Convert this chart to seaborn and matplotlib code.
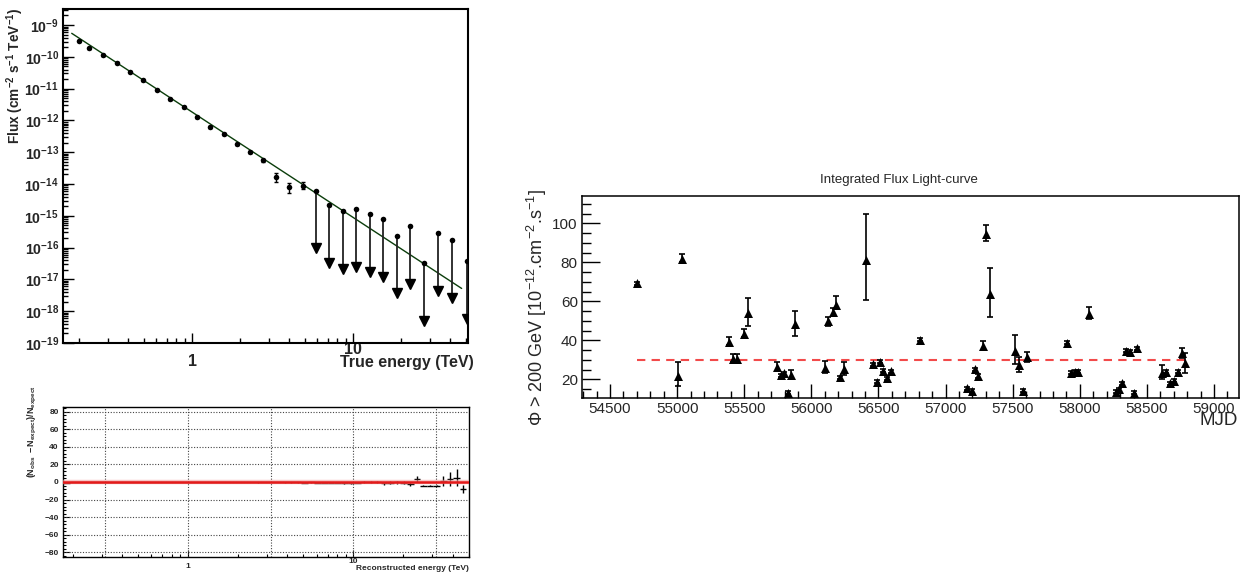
import numpy as np
import matplotlib
matplotlib.use("Agg")
import matplotlib.pyplot as plt
import matplotlib.transforms as mtransforms
from matplotlib.ticker import (LogLocator, FixedLocator, FixedFormatter,
                               NullFormatter, MultipleLocator, FuncFormatter)
import seaborn as sns

# ---------------- differential spectrum (true energy, TeV) ----------------
spec_energy = [0.199, 0.230, 0.281, 0.340, 0.412, 0.499, 0.607, 0.733, 0.888,
               1.074, 1.30, 1.57, 1.90, 2.29, 2.76, 3.32, 4.00, 4.89]
spec_flux = [3.2e-10, 1.86e-10, 1.12e-10, 6.5e-11, 3.4e-11, 1.86e-11, 9.1e-12,
             4.6e-12, 2.6e-12, 1.28e-12, 6.2e-13, 3.7e-13, 1.78e-13, 1.04e-13,
             5.6e-14, 1.7e-14, 7.9e-15, 8.9e-15]
spec_err_low = [0.8e-11, 0.5e-11, 0.3e-11, 0.2e-11, 0.1e-11, 0.6e-12, 0.3e-12,
                0.2e-12, 0.1e-12, 0.6e-13, 0.3e-13, 0.2e-13, 0.1e-13, 0.7e-14,
                0.5e-14, 0.53e-14, 2.8e-15, 2.0e-15]
spec_err_high = [0.8e-11, 0.5e-11, 0.3e-11, 0.2e-11, 0.1e-11, 0.6e-12, 0.3e-12,
                 0.2e-12, 0.1e-12, 0.6e-13, 0.3e-13, 0.2e-13, 0.1e-13, 0.7e-14,
                 0.5e-14, 0.6e-14, 3.1e-15, 2.6e-15]

# upper limits
ul_energy = [5.89, 7.10, 8.67, 10.4, 12.8, 15.4, 18.8, 22.6, 27.6, 33.7, 41.2, 51.1]
ul_flux = [6.2e-15, 2.2e-15, 1.45e-15, 1.63e-15, 1.11e-15, 7.8e-16, 2.4e-16,
           4.9e-16, 3.2e-17, 2.9e-16, 1.73e-16, 3.8e-17]

# power-law fit, end points
fit_energy = [0.179, 47.3]
fit_flux = [5.5e-10, 5.2e-18]

# ---------------- residuals (reconstructed energy, TeV) ----------------
res_energy = [0.1845, 0.2023, 0.2218, 0.2432, 0.2667, 0.2924, 0.3206, 0.3516,
              0.3855, 0.4227, 0.4634, 0.5082, 0.5572, 0.6109, 0.6699, 0.7345,
              0.8054, 0.8831, 0.9683, 1.062, 1.164, 1.276, 1.400, 1.535, 1.683,
              1.845, 2.023, 2.218, 2.432, 2.667, 2.924, 3.206, 3.516, 3.855,
              4.227, 4.634, 5.082, 5.572, 6.109, 6.699, 7.345, 8.054, 8.831,
              9.683, 10.62, 11.64, 12.76, 14.00, 15.35, 16.83, 18.45, 20.23,
              22.18, 24.32, 26.67, 29.24, 32.06, 35.16, 38.55, 42.27, 46.34]
res_value = [-0.6, -0.3, -0.2, 0.1, -0.1, 0.0, 0.1, -0.1, 0.0, 0.1,
             0.0, -0.1, 0.0, 0.1, 0.0, -0.1, 0.0, 0.1, 0.0, -0.1,
             0.1, 0.0, -0.1, 0.0, 0.1, 0.0, -0.2, 0.1, 0.0, -0.3,
             -0.2, -0.1, 0.1, -0.5, -0.4, -0.2, -0.6, -0.3, -0.7, -0.9,
             -0.8, -0.6, -0.9, -1.0, -0.7, -0.2, 0.3, -0.4, -1.5, -0.8,
             -0.2, -0.6, -2.7, 3.4, -4.2, -4.2, -4.2, 1.1, 3.4, 4.9, -8.0]
res_err = [0.2, 0.1, 0.1, 0.1, 0.1, 0.1, 0.1, 0.1, 0.1, 0.1,
           0.1, 0.1, 0.1, 0.1, 0.1, 0.1, 0.1, 0.1, 0.1, 0.1,
           0.1, 0.1, 0.1, 0.2, 0.2, 0.2, 0.2, 0.2, 0.3, 0.3,
           0.3, 0.3, 0.4, 0.4, 0.4, 0.5, 0.5, 0.6, 0.6, 0.7,
           0.7, 0.8, 0.9, 1.0, 1.0, 1.1, 1.2, 1.3, 1.5, 1.6,
           1.8, 2.0, 2.2, 3.8, 0.3, 0.3, 0.3, 5.5, 7.5, 9.7, 4.2]
res_bin_width_dex = 0.04
res_grid_x = [0.316, 1.0, 3.16, 10.0, 31.6]
res_grid_y = [-80, -60, -40, -20, 0, 20, 40, 60, 80]

# ---------------- integrated flux light curve ----------------
lc_mjd = [54704, 55004, 55034, 55389, 55419, 55444, 55499, 55528, 55742, 55774,
          55799, 55829, 55849, 55881, 56105, 56127, 56160, 56180, 56210, 56240,
          56406, 56456, 56488, 56512, 56537, 56567, 56594, 56810, 57163, 57197,
          57222, 57245, 57277, 57304, 57329, 57518, 57550, 57580, 57605, 57908,
          57934, 57966, 57990, 58072, 58269, 58293, 58318, 58345, 58375, 58400,
          58429, 58616, 58643, 58673, 58698, 58731, 58758, 58780]
lc_flux = [69.2, 21.7, 81.7, 39.1, 30.6, 30.3, 43.2, 54.2, 26.5, 22.0,
           23.1, 13.1, 22.0, 48.5, 25.6, 49.7, 54.4, 58.3, 21.0, 25.1,
           81.2, 27.8, 18.8, 29.1, 24.4, 20.5, 24.1, 40.2, 15.4, 14.0,
           25.1, 21.7, 37.1, 94.5, 63.7, 34.7, 27.3, 14.2, 31.3, 38.8,
           23.4, 23.8, 23.8, 53.5, 13.6, 14.9, 18.0, 34.7, 34.2, 13.1,
           35.9, 23.4, 23.9, 18.0, 19.3, 23.8, 33.3, 28.2]
lc_err_low = [0.8, 5.1, 1.7, 1.5, 1.5, 1.5, 1.7, 6.7, 2.1, 0.8,
              0.8, 0.8, 1.7, 6.1, 2.5, 2.2, 1.8, 1.9, 0.8, 2.9,
              20.5, 0.8, 0.8, 0.8, 0.8, 0.8, 0.8, 0.8, 0.8, 0.8,
              0.8, 0.8, 2.1, 3.4, 11.9, 6.9, 3.7, 0.8, 2.3, 0.8,
              0.8, 0.8, 0.8, 2.7, 0.8, 0.8, 0.8, 0.8, 0.8, 0.8,
              0.8, 3.2, 0.8, 0.8, 0.8, 0.8, 2.5, 5.1]
lc_err_high = [0.8, 7.3, 2.6, 2.8, 2.5, 2.5, 2.4, 7.7, 2.2, 0.8,
               0.8, 0.8, 2.8, 6.7, 3.8, 2.4, 2.0, 4.4, 0.8, 3.9,
               23.6, 0.8, 0.8, 0.8, 0.8, 0.8, 0.8, 0.8, 0.8, 0.8,
               0.8, 0.8, 2.7, 4.8, 13.2, 8.2, 4.0, 0.8, 2.9, 0.8,
               0.8, 0.8, 0.8, 3.4, 0.8, 0.8, 0.8, 0.8, 0.8, 0.8,
               0.8, 3.9, 0.8, 0.8, 0.8, 0.8, 2.6, 5.4]
lc_mean = 30.0

# ---------------- style ----------------
sns.set_style("ticks")
plt.rcParams["font.family"] = ["Liberation Sans", "DejaVu Sans"]
plt.rcParams["mathtext.fontset"] = "custom"
plt.rcParams["mathtext.rm"] = "Liberation Sans"
plt.rcParams["mathtext.bf"] = "Liberation Sans:bold"
plt.rcParams["mathtext.it"] = "Liberation Sans:italic"
plt.rcParams["mathtext.default"] = "regular"

W, H = 1244, 574
fig = plt.figure(figsize=(W / 100, H / 100), dpi=100)
fig.patch.set_facecolor("white")


def px_axes(left, top, right, bottom):
    return fig.add_axes([left / W, 1 - bottom / H, (right - left) / W, (bottom - top) / H])


def raise_label(ax, value, dy_pt):
    ticks = ax.xaxis.get_major_ticks()
    locs = ax.xaxis.get_majorticklocs()
    for tick, loc in zip(ticks, locs):
        if np.isclose(loc, value):
            off = mtransforms.ScaledTranslation(0, dy_pt / 72, fig.dpi_scale_trans)
            tick.label1.set_transform(tick.label1.get_transform() + off)


# ======== spectrum panel ========
ax1 = px_axes(63, 9, 468, 343)
ax1.set_xscale("log")
ax1.set_yscale("log")
ax1.set_xlim(0.158, 51.8)
ax1.set_ylim(1e-19, 3.2e-9)

sns.lineplot(x=fit_energy, y=fit_flux, ax=ax1, color="#0b3d0b", lw=1.0,
             sort=False, legend=False, zorder=2)

ax1.errorbar(spec_energy, spec_flux, yerr=[spec_err_low, spec_err_high],
             fmt="none", ecolor="black", elinewidth=1.0, capsize=1.5, zorder=3)
sns.scatterplot(x=spec_energy, y=spec_flux, ax=ax1, color="black", s=16,
                marker="o", edgecolor="black", linewidth=0, legend=False, zorder=4)

# upper-limit arrows
ul_arrow_dex = 1.95
ul_head_dex = 0.13
ul_tip = np.array(ul_flux) * 10 ** (-ul_arrow_dex)
ax1.vlines(ul_energy, ul_tip * 10 ** ul_head_dex, ul_flux, colors="#222222",
           lw=1.3, zorder=3)
ax1.plot(ul_energy, ul_tip * 10 ** ul_head_dex, ls="none", marker="v", ms=6.5,
         color="black", zorder=4)
sns.scatterplot(x=ul_energy, y=ul_flux, ax=ax1, color="black", s=16,
                marker="o", edgecolor="black", linewidth=0, legend=False, zorder=4)

ax1.yaxis.set_major_locator(LogLocator(base=10, numticks=20))
ax1.yaxis.set_minor_locator(LogLocator(base=10, subs=np.arange(2, 10), numticks=40))
ax1.yaxis.set_major_formatter(FuncFormatter(
    lambda v, p: r"$\mathbf{10^{%d}}$" % int(round(np.log10(v)))))
ax1.yaxis.set_minor_formatter(NullFormatter())
ax1.xaxis.set_major_locator(FixedLocator([1, 10]))
ax1.xaxis.set_major_formatter(FixedFormatter(["1", "10"]))
ax1.xaxis.set_minor_locator(LogLocator(base=10, subs=np.arange(2, 10), numticks=20))
ax1.xaxis.set_minor_formatter(NullFormatter())
ax1.tick_params(axis="both", which="both", direction="in", top=False, right=False,
                width=1.0, color="black")
ax1.tick_params(axis="y", which="major", length=7.7, pad=3, labelsize=10.2)
ax1.tick_params(axis="y", which="minor", length=3.6)
ax1.tick_params(axis="x", which="major", length=7, pad=8, labelsize=11.5)
ax1.tick_params(axis="x", which="minor", length=3.6)
for lab in ax1.get_xticklabels():
    lab.set_fontweight("bold")
raise_label(ax1, 10, 9)
for sp in ax1.spines.values():
    sp.set_linewidth(1.5)
    sp.set_color("black")

ax1.set_xlabel("True energy (TeV)", fontsize=11.5, fontweight="bold",
               ha="right", va="center")
ax1.xaxis.set_label_coords(1.015, -0.057)
ax1.set_ylabel(r"$\mathbf{Flux\ (cm^{-2}\ s^{-1}\ TeV^{-1})}$", fontsize=9.8,
               ha="center", va="center")
ax1.yaxis.set_label_coords(-0.119, 0.80)

# ======== residual panel ========
ax2 = px_axes(63, 407, 469, 557)
ax2.set_xscale("log")
ax2.set_xlim(0.175, 50.3)
ax2.set_ylim(-85.7, 85.7)

for gx in res_grid_x:
    ax2.axvline(gx, color="#444444", lw=0.8, ls=(0, (1, 1.5)), zorder=1)
for gy in res_grid_y:
    ax2.axhline(gy, color="#444444", lw=0.8, ls=(0, (1, 1.5)), zorder=1)

res_e = np.array(res_energy)
half = 10 ** (res_bin_width_dex / 2)
ax2.errorbar(res_energy, res_value, yerr=res_err,
             xerr=[res_e - res_e / half, res_e * half - res_e],
             fmt="none", ecolor="black", elinewidth=1.0, capsize=0, zorder=2)
ax2.axhline(0, color="#f2a0a0", lw=3.2, zorder=3, alpha=0.6)
ax2.axhline(0, color="#e41a1a", lw=1.8, zorder=4)

ax2.yaxis.set_major_locator(MultipleLocator(20))
ax2.yaxis.set_minor_locator(MultipleLocator(4))
ax2.xaxis.set_major_locator(FixedLocator([1, 10]))
ax2.xaxis.set_major_formatter(FixedFormatter(["1", "10"]))
ax2.xaxis.set_minor_locator(LogLocator(base=10, subs=np.arange(2, 10), numticks=20))
ax2.xaxis.set_minor_formatter(NullFormatter())
ax2.tick_params(axis="both", which="both", direction="in", top=False, right=False,
                labelsize=6, width=0.8, color="black")
ax2.tick_params(axis="y", which="major", length=5, pad=3)
ax2.tick_params(axis="y", which="minor", length=2.5)
ax2.tick_params(axis="x", which="major", length=5, pad=4)
ax2.tick_params(axis="x", which="minor", length=2.5)
for lab in ax2.get_xticklabels() + ax2.get_yticklabels():
    lab.set_fontweight("bold")
raise_label(ax2, 10, 3.5)
for sp in ax2.spines.values():
    sp.set_linewidth(1.0)
    sp.set_color("black")

ax2.set_xlabel("Reconstructed energy (TeV)", fontsize=6, fontweight="bold",
               ha="right", va="center")
ax2.xaxis.set_label_coords(1.0, -0.08)
ax2.set_ylabel(r"$\mathbf{(N_{obs}\ -N_{expect})/N_{expect}}$", fontsize=6.5,
               ha="center", va="center")
ax2.yaxis.set_label_coords(-0.076, 0.833)

# ======== light curve panel ========
ax3 = px_axes(582, 196, 1239, 398)
ax3.set_xlim(54291, 59186)
ax3.set_ylim(10.4, 114)

ax3.hlines(lc_mean, lc_mjd[0], lc_mjd[-1], colors="#f24a4a",
           linestyles=(0, (4, 3)), lw=1.5, zorder=2)
ax3.errorbar(lc_mjd, lc_flux, yerr=[lc_err_low, lc_err_high], fmt="none",
             ecolor="black", elinewidth=1.2, capsize=2.2, capthick=1.2, zorder=3)
sns.scatterplot(x=lc_mjd, y=lc_flux, ax=ax3, marker="^", s=42, color="black",
                edgecolor="black", linewidth=0, legend=False, zorder=4)

ax3.xaxis.set_major_locator(MultipleLocator(500))
ax3.xaxis.set_minor_locator(MultipleLocator(100))
ax3.yaxis.set_major_locator(MultipleLocator(20))
ax3.yaxis.set_minor_locator(MultipleLocator(5))
ax3.tick_params(axis="both", which="both", direction="in", top=False, right=False,
                labelsize=11, width=1.0, color="black")
ax3.tick_params(axis="y", which="major", length=13, pad=3)
ax3.tick_params(axis="y", which="minor", length=6.5)
ax3.tick_params(axis="x", which="major", length=10, pad=3)
ax3.tick_params(axis="x", which="minor", length=5)
for sp in ax3.spines.values():
    sp.set_linewidth(1.1)
    sp.set_color("black")

ax3.set_xlabel("MJD", fontsize=13.5, ha="right", va="center")
ax3.xaxis.set_label_coords(0.999, -0.11)
ax3.set_ylabel("\u03a6 > 200 GeV [10$^{-12}$.cm$^{-2}$.s$^{-1}$]", fontsize=13,
               ha="center", va="center")
ax3.yaxis.set_label_coords(-0.068, 0.45)

fig.text(899 / W, 1 - 180 / H, "Integrated Flux Light-curve", fontsize=9.5,
         ha="center", va="center")

fig.savefig("out.png", dpi=100, facecolor="white")
